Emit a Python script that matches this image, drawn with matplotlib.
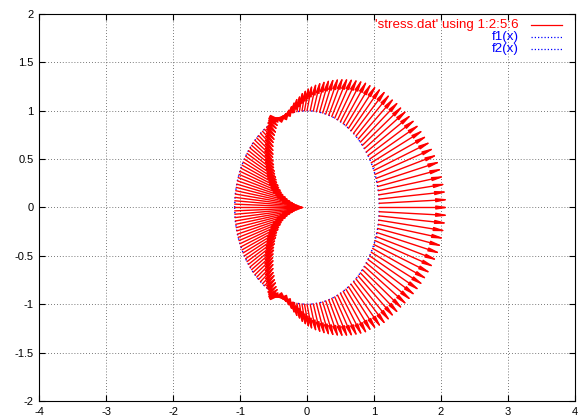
import numpy as np
import matplotlib
matplotlib.use("Agg")
import matplotlib.pyplot as plt

plt.rcParams.update({
    "font.family": ["Liberation Sans", "DejaVu Sans"],
    "font.size": 8,
    "axes.unicode_minus": False,
})

# sample points on the boundary (upper half, degrees); lower half mirrors it
theta_upper = [
    0, 2.5, 5, 7.5, 10, 12.5, 15, 17.5, 20, 22.5,
    25, 27.5, 30, 32.5, 35, 37.5, 40, 42.5, 45, 47.5,
    50, 52.5, 55, 57.5, 60, 62.5, 65, 67.5, 70, 72.5,
    75, 77.5, 80, 82.5, 85, 87.5, 90, 92, 94, 96,
    98, 100, 102, 104, 106, 108, 110, 112, 114, 116,
    118, 120, 122, 124, 126, 128, 130, 132, 134, 136,
    138, 140, 142, 144, 146, 148, 150, 152, 154, 156,
    158, 160, 162, 164, 166, 168, 170, 172, 174, 176,
    178, 180,
]
# radial part of the stress vector at each point
radial_upper = [
    0.90, 0.90, 0.89, 0.88, 0.87, 0.86, 0.85, 0.83, 0.81, 0.79,
    0.77, 0.75, 0.73, 0.71, 0.69, 0.67, 0.65, 0.64, 0.62, 0.61,
    0.60, 0.58, 0.56, 0.54, 0.53, 0.51, 0.49, 0.47, 0.45, 0.43,
    0.41, 0.39, 0.37, 0.35, 0.33, 0.31, 0.29, 0.27, 0.25, 0.23,
    0.20, 0.18, 0.15, 0.12, 0.09, 0.06, 0.03, 0.01, -0.02, -0.04,
    -0.07, -0.09, -0.12, -0.14, -0.17, -0.19, -0.22, -0.25, -0.28, -0.30,
    -0.33, -0.36, -0.38, -0.41, -0.43, -0.46, -0.48, -0.50, -0.53, -0.55,
    -0.58, -0.60, -0.63, -0.67, -0.70, -0.74, -0.78, -0.81, -0.85, -0.88,
    -0.91, -0.93,
]
shift_x = 0.08   # constant x part of the vectors
semi_x = 1.08    # boundary half width
semi_y = 1.0     # boundary half height

xticks = [-4, -3, -2, -1, 0, 1, 2, 3, 4]
yticks = [-2, -1.5, -1, -0.5, 0, 0.5, 1, 1.5, 2]
ytick_labels = ["-2", "-1.5", "-1", "-0.5", "0", "0.5", "1", "1.5", "2"]

theta = np.radians(theta_upper + [360 - t for t in theta_upper[-2:0:-1]])
radial = np.array(radial_upper + radial_upper[-2:0:-1])

px = semi_x * np.cos(theta)
py = semi_y * np.sin(theta)
dx = radial * px + shift_x
dy = radial * py

fig = plt.figure(figsize=(5.79, 4.17), dpi=100)
ax = fig.add_axes([0.0674, 0.0384, 0.9257, 0.928])

for x0, y0, u, v in zip(px, py, dx, dy):
    ax.annotate("", xy=(x0 + u, y0 + v), xytext=(x0, y0),
                arrowprops=dict(arrowstyle="-|>,head_length=0.85,head_width=0.13",
                                color="red", lw=1.0, shrinkA=0, shrinkB=0))

xs = np.linspace(-semi_x, semi_x, 400)
f1 = semi_y * np.sqrt(np.clip(1 - (xs / semi_x) ** 2, 0, None))
ax.plot(xs, f1, color="blue", lw=1.0, linestyle=(0, (1, 2.2)))
ax.plot(xs, -f1, color="blue", lw=1.0, linestyle=(0, (1, 2.2)))

ax.set_xlim(-4, 4)
ax.set_ylim(-2, 2)
ax.set_xticks(xticks)
ax.set_yticks(yticks)
ax.set_yticklabels(ytick_labels)
ax.tick_params(direction="in", length=4, width=0.8, top=True, right=True, pad=4)
ax.grid(True, color="0.3", linestyle=(0, (1, 2.5)), linewidth=0.6)
for s in ax.spines.values():
    s.set_linewidth(0.8)

# gnuplot style key, text right aligned, sample on the right
key = [("'stress.dat' using 1:2:5:6", "red", "-"),
       ("f1(x)", "blue", (0, (1, 1.6))),
       ("f2(x)", "blue", (0, (1, 1.6)))]
for i, (label, col, ls) in enumerate(key):
    yk = 0.9716 - i * 0.031
    ax.text(0.8955, yk, label, color=col, ha="right", va="center",
            fontsize=9.6, transform=ax.transAxes)
    ax.plot([0.918, 0.976], [yk, yk], color=col, lw=0.9, linestyle=ls,
            transform=ax.transAxes)

fig.savefig("out.png", dpi=100)
